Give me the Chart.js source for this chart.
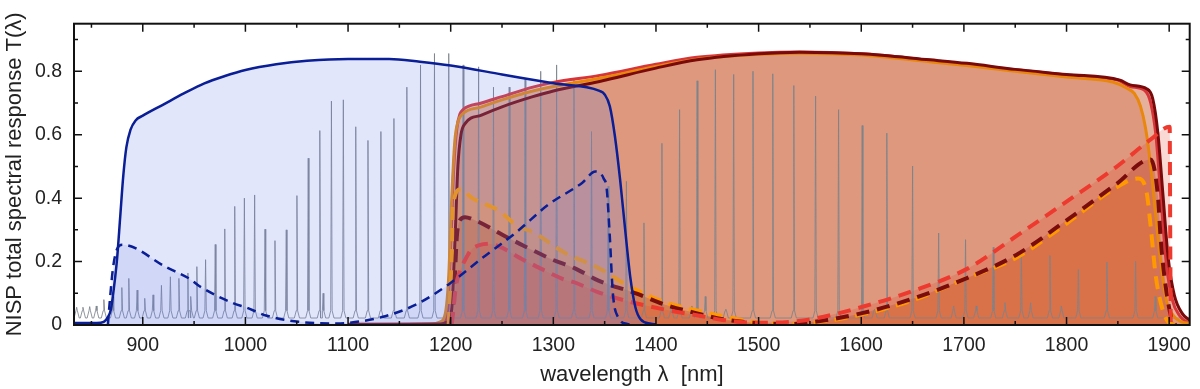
<!DOCTYPE html>
<html>
<head>
<meta charset="utf-8">
<script src="https://cdn.jsdelivr.net/npm/chart.js@4.4.1/dist/chart.umd.min.js"></script>
<style>
  body { margin: 0; background: #fff; }
</style>
</head>
<body>
<canvas id="nisp" width="1200" height="389"></canvas>
<script>
// axis ticks
const xTicks = [900, 1000, 1100, 1200, 1300, 1400, 1500, 1600, 1700, 1800, 1900];
const xMinorTicks = [850, 950, 1050, 1150, 1250, 1350, 1450, 1550, 1650, 1750, 1850];
const yTicks = [0, 0.2, 0.4, 0.6, 0.8];
const yMinorTicks = [0.1, 0.3, 0.5, 0.7, 0.9];

// blue grism, [wavelength nm, T]
const blueSolid = [[833,0.006],[855,0.006],[862,0.01],[866,0.025],[869,0.05],[872,0.12],[875,0.21],[878,0.34],[881,0.47],[884,0.56],[888,0.615],[893,0.645],[900,0.66],[920,0.695],[940,0.73],[960,0.762],[980,0.785],[1000,0.804],[1030,0.822],[1060,0.833],[1100,0.839],[1140,0.839],[1170,0.83],[1200,0.818],[1250,0.79],[1300,0.762],[1345,0.738],[1350,0.727],[1355,0.69],[1360,0.595],[1365,0.46],[1370,0.3],[1375,0.15],[1380,0.055],[1385,0.018],[1395,0.004],[1400,0.002]];
const blueDashed = [[866,0],[868,0.08],[871,0.18],[875,0.24],[880,0.253],[923,0.182],[946,0.145],[955,0.123],[988,0.069],[1001,0.055],[1020,0.03],[1052,0.01],[1085,0.005],[1101,0.007],[1133,0.025],[1166,0.064],[1198,0.128],[1231,0.212],[1263,0.29],[1295,0.379],[1328,0.448],[1341,0.484],[1346,0.478],[1349,0.462],[1352,0.43],[1355,0.28],[1358,0.1],[1363,0.025],[1372,0.003],[1380,0]];

// red grisms, solid
const redSolid = [[1130,0.001],[1185,0.002],[1193,0.01],[1197,0.05],[1200,0.25],[1203,0.5],[1206,0.62],[1209,0.665],[1212,0.679],[1230,0.7],[1250,0.72],[1280,0.75],[1300,0.765],[1345,0.787],[1400,0.822],[1440,0.844],[1500,0.858],[1540,0.861],[1600,0.855],[1667,0.835],[1703,0.822],[1750,0.805],[1800,0.788],[1848,0.774],[1852,0.77],[1862,0.752],[1876,0.74],[1882,0.7],[1887,0.6],[1892,0.4],[1897,0.2],[1903,0.08],[1910,0.03],[1917,0.01],[1920,0.008]];
const orangeSolid = [[1130,0.001],[1180,0.003],[1190,0.01],[1195,0.04],[1198,0.15],[1201,0.4],[1204,0.58],[1207,0.64],[1211,0.664],[1230,0.688],[1250,0.71],[1280,0.738],[1300,0.752],[1345,0.778],[1400,0.815],[1440,0.838],[1500,0.853],[1540,0.857],[1600,0.851],[1667,0.83],[1703,0.818],[1750,0.8],[1800,0.782],[1845,0.766],[1858,0.748],[1866,0.73],[1872,0.69],[1877,0.62],[1882,0.5],[1887,0.34],[1892,0.19],[1897,0.08],[1904,0.03],[1912,0.01],[1920,0.005]];
const darkRedSolid = [[1100,0.002],[1190,0.003],[1197,0.01],[1201,0.05],[1204,0.25],[1207,0.5],[1210,0.6],[1214,0.635],[1230,0.662],[1250,0.688],[1280,0.72],[1300,0.738],[1345,0.768],[1400,0.81],[1440,0.836],[1500,0.855],[1540,0.86],[1600,0.855],[1667,0.836],[1703,0.825],[1750,0.806],[1800,0.79],[1852,0.772],[1862,0.757],[1878,0.745],[1884,0.713],[1889,0.605],[1894,0.408],[1899,0.212],[1905,0.094],[1913,0.035],[1920,0.015]];

// red grisms, dashed
const orangeDashed = [[1198,0],[1199.5,0.1],[1201,0.2],[1202,0.37],[1209.5,0.428],[1221,0.4],[1247,0.36],[1266,0.31],[1279,0.295],[1311,0.228],[1344,0.18],[1376,0.118],[1408,0.072],[1441,0.045],[1465,0.028],[1500,0.008],[1530,0.004],[1554,0.008],[1603,0.035],[1651,0.079],[1703,0.148],[1751,0.212],[1800,0.32],[1848,0.433],[1870,0.462],[1878,0.418],[1882,0.31],[1887,0.153],[1894,0.044],[1899,0.01],[1905,0]];
const darkRedDashed = [[1200,0],[1202,0.05],[1204,0.15],[1206,0.28],[1209,0.33],[1214,0.34],[1221,0.334],[1253,0.28],[1271,0.25],[1300,0.205],[1320,0.18],[1344,0.14],[1382,0.098],[1408,0.065],[1441,0.036],[1465,0.018],[1500,0.006],[1530,0.003],[1554,0.01],[1603,0.039],[1651,0.084],[1703,0.148],[1751,0.221],[1800,0.33],[1848,0.443],[1882,0.522],[1889,0.408],[1892,0.26],[1897,0.113],[1902,0.025],[1906,0]];
const redDashed = [[1201,0],[1203,0.06],[1205,0.12],[1209,0.17],[1214,0.205],[1220,0.237],[1228,0.252],[1237,0.256],[1247,0.248],[1271,0.205],[1279,0.192],[1311,0.143],[1320,0.135],[1344,0.103],[1370,0.077],[1408,0.049],[1441,0.03],[1465,0.016],[1500,0.007],[1530,0.01],[1554,0.02],[1603,0.059],[1651,0.108],[1703,0.177],[1751,0.28],[1800,0.389],[1848,0.497],[1882,0.585],[1900.5,0.625],[1901,0.3],[1901.5,0]];

// calibration lamp lines: position (nm) and peak height
const lineWl = [835.6,841.7,848.3,854.7,862.1,871,879.6,886.4,894.5,901.9,910,918.2,926.9,935.2,944,946.9,952.7,961.2,970.6,979.9,989.6,999,1009,1019.1,1028.8,1039.8,1050.2,1061.2,1072.5,1075.7,1083.8,1095.4,1107.5,1119.4,1132,1144.7,1157.3,1170.6,1184.2,1198.1,1212.1,1227.2,1241.7,1257,1272.5,1287.7,1303.2,1320.1,1337.2,1353.4,1371.2,1388.3,1405.8,1415,1423,1435,1440.1,1448,1457.9,1468,1475.7,1494.5,1513.8,1534.3,1555.5,1577.9,1600.9,1613,1624.9,1650,1675.4,1690,1701.6,1712,1728.6,1740,1756,1765,1783.8,1795,1811.5,1839.3,1867.3,1886.4];
const lineHt = [0.056,0.056,0.058,0.06,0.08,0.09,0.118,0.147,0.11,0.084,0.095,0.125,0.152,0.147,0.164,0.09,0.184,0.206,0.254,0.303,0.374,0.4,0.41,0.302,0.266,0.3,0.408,0.526,0.613,0.1,0.706,0.71,0.625,0.582,0.61,0.651,0.75,0.82,0.856,0.856,0.82,0.814,0.75,0.75,0.775,0.8,0.82,0.772,0.61,0.438,0.453,0.322,0.573,0.07,0.679,0.06,0.77,0.09,0.805,0.05,0.79,0.8,0.792,0.755,0.722,0.679,0.629,0.05,0.605,0.501,0.29,0.06,0.269,0.06,0.245,0.07,0.223,0.07,0.219,0.06,0.175,0.198,0.201,0.09];
const lineBase = 0.022;
const lineWing = 0.045;

const xy = arr => arr.map(([x, y]) => ({x, y}));

const spectrum = [{x: 833, y: lineBase}, {x: 1920, y: lineBase}];
lineWl.forEach((w, i) => {
  spectrum.push({x: w - 2.5, y: lineBase}, {x: w - 0.7, y: lineWing}, {x: w, y: lineHt[i]},
                {x: w + 0.7, y: lineWing}, {x: w + 2.5, y: lineBase});
});
spectrum.sort((a, b) => a.x - b.x);

function fillSet(data, color) {
  return { data: xy(data), borderWidth: 0, borderColor: 'rgba(0,0,0,0)', backgroundColor: color,
           fill: 'origin', pointRadius: 0, cubicInterpolationMode: 'monotone' };
}
function lineSet(data, color, width, dash) {
  return { data: xy(data), borderColor: color, borderWidth: width, borderDash: dash || [],
           fill: false, pointRadius: 0, cubicInterpolationMode: 'monotone' };
}

// listed bottom to top
const layers = [
  fillSet(redSolid, 'rgba(197,83,33,0.26)'),
  fillSet(orangeSolid, 'rgba(197,83,33,0.26)'),
  fillSet(darkRedSolid, 'rgba(197,83,33,0.26)'),
  fillSet(orangeDashed, 'rgba(255,150,40,0.3)'),
  fillSet(darkRedDashed, 'rgba(140,30,10,0.2)'),
  fillSet(redDashed, 'rgba(230,60,40,0.2)'),
  { data: spectrum, borderColor: 'rgba(125,132,140,0.85)', borderWidth: 1, pointRadius: 0, fill: false, tension: 0 },
  lineSet(redSolid, '#d8353a', 3),
  lineSet(orangeSolid, '#e8870c', 3),
  lineSet(darkRedSolid, '#7a0a0a', 3),
  lineSet(orangeDashed, '#ff9900', 4, [13, 8]),
  lineSet(darkRedDashed, '#7a0c0c', 4, [13, 8]),
  lineSet(redDashed, '#ee3a2e', 4, [13, 8]),
  fillSet(blueSolid, 'rgba(110,130,235,0.2)'),
  fillSet(blueDashed, 'rgba(100,120,220,0.14)'),
  lineSet(blueSolid, '#0a1e96', 2.5),
  lineSet(blueDashed, '#0a1e96', 2.5, [9, 6])
];
layers.forEach((d, i) => { d.order = layers.length - i; });

const frame = {
  id: 'frame',
  afterDatasetsDraw(chart) {
    const {ctx, chartArea: a, scales: {x, y}} = chart;
    ctx.save();
    ctx.strokeStyle = '#111';
    ctx.lineWidth = 1.5;
    ctx.beginPath();
    const xMark = (v, len) => {
      const px = x.getPixelForValue(v);
      ctx.moveTo(px, a.bottom); ctx.lineTo(px, a.bottom - len);
      ctx.moveTo(px, a.top); ctx.lineTo(px, a.top + len);
    };
    const yMark = (v, len) => {
      const py = y.getPixelForValue(v);
      ctx.moveTo(a.left, py); ctx.lineTo(a.left + len, py);
      ctx.moveTo(a.right, py); ctx.lineTo(a.right - len, py);
    };
    xTicks.forEach(v => xMark(v, 8));
    xMinorTicks.forEach(v => xMark(v, 4));
    yTicks.forEach(v => yMark(v, 8));
    yMinorTicks.forEach(v => yMark(v, 4));
    ctx.stroke();
    ctx.lineWidth = 2;
    ctx.strokeRect(a.left, a.top, a.width, a.height);
    ctx.restore();
  }
};

const family = '"Liberation Sans", Arial, sans-serif';

new Chart(document.getElementById('nisp'), {
  type: 'line',
  data: { datasets: layers },
  options: {
    responsive: false,
    animation: false,
    layout: { padding: { top: 3, right: 7, left: 0, bottom: 0 } },
    plugins: { legend: { display: false }, tooltip: { enabled: false } },
    scales: {
      x: {
        type: 'linear', min: 833, max: 1920,
        grid: { display: false, drawTicks: false },
        border: { display: false },
        afterBuildTicks: s => { s.ticks = xTicks.map(v => ({value: v})); },
        afterFit: s => { s.height = 64; },
        ticks: { padding: 9, color: '#222', font: { family, size: 19.5 }, maxRotation: 0, autoSkip: false,
                 callback: v => String(v) },
        title: { display: true, text: 'wavelength λ  [nm]', color: '#222', font: { family, size: 22 },
                 padding: { top: 0, bottom: 1 } }
      },
      y: {
        min: 0, max: 0.95,
        grid: { display: false, drawTicks: false },
        border: { display: false },
        afterBuildTicks: s => { s.ticks = yTicks.map(v => ({value: v})); },
        afterFit: s => { s.width = 74; },
        ticks: { padding: 12, color: '#222', font: { family, size: 19.5 },
                 callback: v => v === 0 ? '0' : v.toFixed(1) },
        title: { display: true, text: 'NISP total spectral response T(λ)', color: '#222', font: { family, size: 22 },
                 padding: { top: 2, bottom: 0 } }
      }
    }
  },
  plugins: [frame]
});
</script>
</body>
</html>
